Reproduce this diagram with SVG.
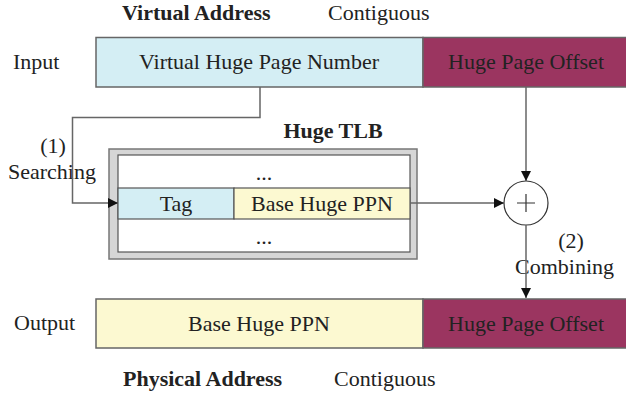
<svg xmlns="http://www.w3.org/2000/svg" width="626" height="396" viewBox="0 0 626 396">
<defs>
<marker id="ah" viewBox="0 0 10 10" refX="10" refY="5" markerWidth="10" markerHeight="10" markerUnits="userSpaceOnUse" orient="auto">
<path d="M0,0 L10,5 L0,10 z" fill="#111"/>
</marker>
</defs>
<rect width="626" height="396" fill="#fff"/>
<g id="labels" fill="#222">
<text style="font-family:'Liberation Serif',serif;font-size:22px;font-weight:bold" x="122" y="20">Virtual Address</text>
<text style="font-family:'Liberation Serif',serif;font-size:22px" x="328" y="20">Contiguous</text>
<text style="font-family:'Liberation Serif',serif;font-size:22px" x="13" y="69">Input</text>
<text style="font-family:'Liberation Serif',serif;font-size:22px" x="14" y="330">Output</text>
<text style="font-family:'Liberation Serif',serif;font-size:22px;font-weight:bold" x="123" y="386">Physical Address</text>
<text style="font-family:'Liberation Serif',serif;font-size:22px" x="334" y="386">Contiguous</text>
<text style="font-family:'Liberation Serif',serif;font-size:22px;text-anchor:middle" x="53" y="153">(1)</text>
<text style="font-family:'Liberation Serif',serif;font-size:22px" x="8" y="179">Searching</text>
<text style="font-family:'Liberation Serif',serif;font-size:22px;text-anchor:middle" x="571" y="248">(2)</text>
<text style="font-family:'Liberation Serif',serif;font-size:22px" x="515" y="274">Combining</text>
</g>
<g id="input" fill="#222">
<rect x="96" y="37.5" width="327" height="49.5" fill="#D4EEF4" stroke="#666" stroke-width="1.5"/>
<rect x="423" y="37.5" width="205" height="49.5" fill="#9B3560" stroke="#666" stroke-width="1.5"/>
<text style="font-family:'Liberation Serif',serif;font-size:22px;text-anchor:middle" x="259" y="69">Virtual Huge Page Number</text>
<text style="font-family:'Liberation Serif',serif;font-size:22px;text-anchor:middle" x="526" y="69">Huge Page Offset</text>
</g>
<g id="tlb" fill="#222">
<text style="font-family:'Liberation Serif',serif;font-size:22px;font-weight:bold;text-anchor:middle" x="333" y="138">Huge TLB</text>
<rect x="109" y="149" width="308" height="110" fill="#D6D6D6" stroke="#777" stroke-width="1.5"/>
<rect x="118" y="155" width="292" height="97" fill="#fff" stroke="#555" stroke-width="1.2"/>
<rect x="118" y="188" width="116" height="31" fill="#D4EEF4" stroke="#555" stroke-width="1.2"/>
<rect x="234" y="188" width="176" height="31" fill="#FCF9D1" stroke="#555" stroke-width="1.2"/>
<text style="font-family:'Liberation Serif',serif;font-size:22px;text-anchor:middle" x="264" y="180">...</text>
<text style="font-family:'Liberation Serif',serif;font-size:22px;text-anchor:middle" x="176" y="211">Tag</text>
<text style="font-family:'Liberation Serif',serif;font-size:22px;text-anchor:middle" x="322" y="211">Base Huge PPN</text>
<text style="font-family:'Liberation Serif',serif;font-size:22px;text-anchor:middle" x="264" y="244">...</text>
</g>
<g id="adder">
<circle cx="526" cy="203" r="22" fill="#fff" stroke="#333" stroke-width="1.2"/>
<path d="M517,203 H535 M526,194 V212" stroke="#333" stroke-width="1.2"/>
</g>
<g id="output" fill="#222">
<rect x="96" y="299" width="327" height="49" fill="#FCF9D1" stroke="#666" stroke-width="1.5"/>
<rect x="423" y="299" width="205" height="49" fill="#9B3560" stroke="#666" stroke-width="1.5"/>
<text style="font-family:'Liberation Serif',serif;font-size:22px;text-anchor:middle" x="259" y="331">Base Huge PPN</text>
<text style="font-family:'Liberation Serif',serif;font-size:22px;text-anchor:middle" x="526" y="331">Huge Page Offset</text>
</g>
<g id="connectors" fill="none" stroke="#666" stroke-width="1.5">
<path d="M260,87 V117.5 H72.5 V203 H118" marker-end="url(#ah)"/>
<path d="M526,87 V181" marker-end="url(#ah)"/>
<path d="M410,203 H504" marker-end="url(#ah)"/>
<path d="M526,225 V298" marker-end="url(#ah)"/>
</g>
</svg>
